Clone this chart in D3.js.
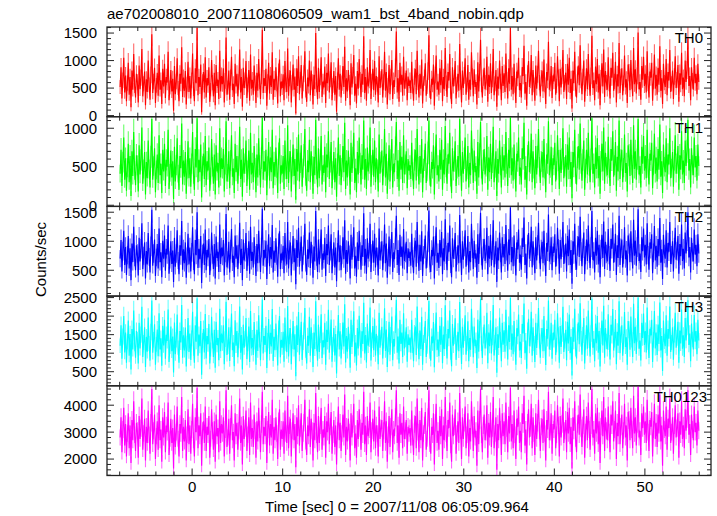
<!DOCTYPE html>
<html><head><meta charset="utf-8">
<script src="https://cdn.jsdelivr.net/npm/d3@7"></script>
<style>body{margin:0;background:#fff}svg{display:block}text{font-family:"Liberation Sans",Arial,Helvetica,sans-serif}</style>
</head><body>
<script>
const title = "ae702008010_20071108060509_wam1_bst_4band_nobin.qdp";
const xTitle = "Time [sec] 0 = 2007/11/08 06:05:09.964";
const yTitle = "Counts/sec";
const bands = ["TH0","TH1","TH2","TH3","TH0123"];
const colors = ["#ff0000","#00ff00","#0000ff","#00ffff","#ff00ff"];
const yDomains = [[-20,1610],[-15,1150],[55,1600],[120,2540],[1390,4720]];
const yMajor = [500,500,500,500,1000];
const yMinor = [100,100,100,100,200];
const xDomain = [-9.4,57.3];
const xTicks = [0,10,20,30,40,50];
const tStart = -7.95, tStep = 0.1;
const binWidth = 1 / 32; // native bin width (s) used for Poisson error bars

const th0 = [520,880,310,640,1050,420,730,260,590,960,380,700,150,820,470,1120,540,330,760,610,
240,910,480,690,1210,350,580,800,190,660,430,1000,560,290,740,1480,410,620,870,230,
550,780,360,1090,470,640,210,850,530,940,320,700,600,1160,280,510,830,440,670,90,
900,390,620,1040,500,260,760,580,1240,340,690,450,810,200,570,980,430,720,310,640,
1130,480,260,860,590,1590,370,700,520,930,60,610,790,420,1060,330,680,550,880,250,
470,1010,600,350,780,190,920,540,650,300,1180,440,720,570,860,240,630,1420,380,510,
820,290,690,1070,460,580,210,940,530,760,350,610,1200,420,700,160,870,500,640,990,
320,560,830,270,1110,490,650,380,910,590,230,780,450,1030,620,300,720,1560,410,680,
540,850,180,610,960,400,730,520,1150,290,670,460,880,580,220,790,1020,350,620,500,
750,280,990,560,430,1220,360,680,820,240,600,930,470,710,40,860,540,1080,390,650,
920,310,580,760,1170,450,250,690,530,1000,370,820,610,200,740,480,1500,560,300,870,
430,700,1060,340,620,510,890,230,780,590,1130,420,660,970,280,550,810,380,720,70,
640,1040,470,760,330,590,900,520,1250,270,680,440,830,600,190,950,510,730,1100,360,
580,220,810,490,1030,650,340,760,560,1440,410,700,270,880,530,640,1190,300,620,850,
460,990,380,720,570,240,1080,500,660,840,330,610,1160,450,790,200,550,920,390,700,
1010,300,640,520,870,1530,420,680,250,960,560,740,360,1070,490,630,820,280,710,540,
640,410,980,530,270,710,850,390,1180,600,330,760,490,1020,220,580,690,950,360,520,
810,1460,440,300,670,560,930,180,740,1090,470,620,380,860,550,1010,260,700,480,1230,
590,340,790,640,1120,420,210,880,530,680,990,310,570,760,450,1300,610,240,820,500,
730,1040,380,560,920,290,650,470,1150,710,350,840,520,610,200,970,440,780,1380,560,
330,690,870,480,600,1070,250,740,520,950,410,660,1210,370,580,830,160,710,490,1000,
620,280,900,540,770,430,1130,650,310,860,580,1590,470,720,390,940,550,230,800,680,
1050,460,590,330,880,720,1270,400,610,180,760,990,520,640,1100,370,830,560,270,910,
490,750,1180,600,350,680,820,440,1020,560,210,790,640,1340,470,580,900,320,730,620,
960,380,540,1080,690,260,850,510,720,1190,430,600,780,300,940,560,1050,410,670,130,
820,590,1160,470,330,740,910,550,1280,640,390,700,1000,250,580,860,480,1120,610,360,
720,1450,500,640,280,890,570,1030,420,760,190,680,950,530,1200,340,810,600,470,1060,
580,310,870,690,1140,450,620,980,240,750,530,1320,410,700,860,370,590,1090,510,660,
230,930,780,460,1010,620,350,1230,570,840,400,720,1510,480,610,290,900,650,1070,540,
760,420,1170,580,330,800,690,960,270,620,1110,490,740,380,870,560,1260,450,680,210,
940,600,520,1030,370,790,640,1190,430,580,820,300,710,1080,500,650,920,250,770,560,
1140,480,690,350,1000,610,830,1420,540,720,280,880,630,470,1050,590,760,390,940,610];

const th1 = [410,720,250,560,880,330,610,190,490,800,300,640,120,700,380,950,450,260,650,520,
180,780,400,590,1010,280,470,690,140,560,350,840,470,230,630,1120,330,510,740,170,
460,660,290,910,390,540,160,720,440,800,250,590,500,980,210,420,710,360,570,80,
760,310,520,870,410,200,640,480,1060,270,580,370,690,150,470,830,350,610,240,540,
950,390,200,730,490,1130,300,590,430,790,100,510,670,340,900,260,570,450,750,190,
380,860,500,280,660,140,780,440,550,230,1000,360,610,470,730,180,530,1090,310,420,
700,220,580,910,370,480,160,800,430,640,280,510,1020,340,590,110,740,410,540,840,
250,460,710,200,940,400,550,300,770,490,170,660,360,870,520,230,610,1140,330,570,
440,720,130,510,820,320,620,430,980,220,560,370,750,480,160,670,870,280,520,410,
640,210,840,460,340,1040,290,570,700,180,500,790,380,600,70,730,440,920,310,550,
780,240,480,650,990,360,190,580,430,850,300,700,510,150,630,390,1110,460,230,740,
350,590,900,270,520,420,760,170,660,490,960,340,560,820,220,450,690,300,610,110,
540,880,380,650,260,490,770,430,1070,210,580,360,710,500,140,810,420,620,940,290,
480,170,690,400,880,550,270,650,460,1100,330,600,210,750,440,540,1010,240,520,720,
370,840,300,610,470,180,920,410,560,710,260,510,990,360,670,150,450,780,310,590,
860,230,540,430,740,1080,340,580,190,820,460,630,290,910,400,530,700,220,600,450,
520,340,810,440,210,590,720,320,990,500,270,640,410,860,170,480,580,800,290,430,
680,1100,360,240,560,470,780,140,620,920,390,520,310,720,460,850,200,590,400,1030,
490,280,660,540,940,350,160,740,440,570,830,250,470,640,370,1120,510,190,690,410,
610,880,310,460,770,230,550,390,970,600,290,710,430,510,150,820,360,660,1080,470,
270,580,730,400,500,900,200,620,430,800,340,550,1020,300,480,700,120,600,410,840,
520,230,760,450,650,360,950,540,250,720,480,1140,390,610,320,790,460,180,670,570,
880,380,490,270,740,600,1070,330,510,140,640,830,430,540,930,300,700,470,220,770,
400,630,990,500,290,570,690,360,860,470,170,660,540,1090,390,480,760,260,610,520,
810,310,450,910,580,210,720,420,600,1000,350,500,650,240,790,460,880,340,560,90,
690,490,980,390,270,620,770,460,1060,540,320,590,840,200,480,720,400,940,510,300,
600,1130,410,540,230,750,470,870,350,640,150,570,800,440,1010,280,680,500,390,890,
480,250,730,580,960,370,520,820,190,630,440,1100,340,590,720,300,490,920,420,550,
180,780,650,380,850,520,290,1040,470,700,330,600,1120,400,510,230,760,540,900,450,
640,350,980,480,270,670,580,810,220,520,930,410,620,310,730,460,1050,370,570,160,
790,500,430,870,300,660,530,1000,350,480,690,240,590,910,410,540,770,200,650,460,
960,400,580,290,840,510,700,1110,450,600,230,740,520,390,880,490,640,320,790,510];

const th2 = [700,1020,480,830,1180,590,900,420,760,1090,530,880,330,960,640,1250,720,500,930,790,
410,1060,650,870,1310,520,750,980,360,830,600,1140,730,460,910,1540,580,790,1030,400,
720,950,530,1220,640,810,380,1010,700,1100,490,870,770,1270,440,680,1000,610,840,300,
1060,560,790,1190,670,430,930,750,1350,510,860,620,980,370,740,1130,600,890,480,810,
1240,650,430,1020,760,1500,540,870,690,1090,280,780,960,590,1200,500,850,720,1040,420,
640,1150,770,520,950,360,1080,710,820,470,1290,610,890,740,1020,410,800,1470,550,680,
990,460,860,1210,630,750,380,1100,700,930,520,780,1320,590,870,330,1030,670,810,1140,
490,730,1000,440,1250,660,820,550,1070,760,400,950,620,1180,790,470,890,1560,580,850,
710,1010,350,780,1120,570,900,690,1280,460,840,630,1050,750,390,960,1170,520,790,670,
920,450,1140,730,600,1330,530,850,980,410,770,1090,640,880,260,1020,710,1230,560,820,
1080,480,750,930,1300,620,420,860,700,1150,540,990,780,370,910,650,1520,730,470,1030,
600,870,1200,510,790,680,1060,400,950,760,1270,590,830,1120,450,720,980,550,890,310,
810,1190,640,930,500,760,1070,690,1360,440,850,610,1000,770,360,1110,680,900,1240,530,
750,390,980,660,1180,820,510,930,730,1480,580,870,440,1050,700,810,1300,470,790,1010,
630,1130,550,890,740,410,1220,670,830,1000,500,780,1290,620,960,370,720,1080,560,870,
1160,470,810,690,1040,1440,590,850,420,1110,730,910,530,1210,660,800,990,450,880,710,
820,580,1130,700,450,890,1010,560,1330,780,490,940,650,1170,400,760,870,1100,530,690,
990,1530,600,470,850,740,1080,360,920,1240,630,800,540,1020,720,1160,430,880,650,1380,
770,500,970,820,1270,590,380,1050,700,860,1140,480,750,930,620,1450,790,420,1000,680,
910,1190,560,740,1090,460,830,640,1300,880,520,1010,700,790,370,1120,610,960,1490,740,
510,870,1040,660,780,1230,430,920,700,1110,580,840,1360,550,760,1000,300,890,670,1150,
800,460,1070,720,950,610,1280,830,490,1030,760,1580,640,900,570,1100,730,410,980,860,
1200,630,770,510,1050,900,1410,590,790,360,940,1140,700,820,1250,550,1000,740,450,1070,
670,930,1320,780,520,860,990,620,1180,740,400,970,820,1460,650,760,1070,500,910,800,
1120,560,720,1230,870,440,1020,690,900,1330,610,780,960,480,1090,740,1200,590,850,270,
1000,770,1300,650,510,920,1080,730,1420,820,570,880,1150,430,760,1030,660,1270,790,540,
900,1520,680,820,460,1060,750,1180,600,940,380,860,1110,710,1340,520,990,780,650,1210,
760,490,1040,870,1290,630,800,1130,420,930,710,1440,590,880,1030,550,770,1240,690,840,
410,1100,960,640,1170,800,530,1370,750,1010,580,900,1550,660,790,470,1070,830,1220,720,
940,600,1310,760,510,980,870,1120,450,800,1260,670,920,560,1040,740,1400,630,860,350,
1110,780,700,1190,550,970,820,1330,610,760,1000,480,890,1230,680,830,1090,440,950,740,
1290,660,870,530,1150,790,1010,1500,720,900,460,1060,810,650,1200,770,940,570,1120,790];

const th3 = [1200,1750,850,1450,2000,1020,1560,740,1310,1880,930,1520,560,1650,1100,2150,1250,880,1600,1370,
720,1820,1130,1500,2250,900,1290,1700,630,1440,1040,1960,1260,800,1570,2420,1010,1360,1780,690,
1240,1640,920,2080,1100,1400,660,1740,1210,1900,850,1500,1330,2180,760,1170,1720,1050,1450,480,
1830,970,1360,2040,1150,740,1600,1290,2300,880,1480,1070,1690,640,1270,1950,1030,1530,820,1400,
2120,1120,740,1750,1310,2480,930,1500,1190,1870,420,1340,1650,1020,2060,860,1460,1240,1790,720,
1100,1980,1330,900,1630,610,1850,1220,1410,810,2200,1050,1530,1270,1750,700,1380,2390,950,1170,
1700,790,1480,2070,1080,1290,650,1890,1200,1600,890,1340,2260,1010,1490,560,1770,1150,1390,1950,
840,1250,1720,760,2140,1130,1410,950,1840,1300,690,1630,1060,2020,1360,810,1530,2450,990,1460,
1220,1740,600,1340,1920,980,1550,1180,2190,790,1440,1080,1800,1290,670,1650,2000,890,1360,1150,
1580,770,1960,1250,1030,2270,910,1460,1680,700,1320,1870,1100,1510,380,1750,1220,2110,960,1410,
1850,820,1290,1600,2220,1060,720,1470,1200,1980,930,1700,1340,630,1560,1110,2400,1250,800,1770,
1030,1490,2050,870,1350,1160,1820,690,1630,1300,2170,1010,1420,1910,770,1240,1680,940,1520,450,
1390,2030,1100,1590,860,1300,1830,1180,2320,750,1460,1040,1710,1320,610,1900,1170,1540,2130,910,
1290,670,1680,1130,2010,1400,880,1590,1250,2360,990,1490,750,1800,1200,1380,2230,800,1350,1730,
1080,1930,940,1520,1270,700,2090,1150,1420,1710,860,1330,2210,1060,1640,630,1230,1850,960,1490,
1990,810,1380,1180,1780,2440,1010,1450,720,1900,1250,1560,900,2080,1130,1370,1700,770,1510,1220,
1420,1010,1900,1200,780,1540,1720,950,2260,1330,840,1610,1110,1980,690,1290,1490,1870,900,1180,
1690,2410,1030,800,1450,1270,1840,620,1570,2100,1080,1370,920,1740,1230,1970,730,1500,1110,2290,
1310,860,1650,1400,2150,1000,650,1790,1200,1460,1940,820,1280,1580,1050,2380,1350,710,1710,1150,
1550,2020,960,1260,1860,780,1410,1090,2200,1500,890,1720,1190,1350,600,1910,1040,1640,2460,1260,
870,1480,1770,1130,1330,2090,730,1560,1190,1890,990,1430,2300,940,1290,1700,470,1510,1140,1960,
1360,780,1820,1230,1620,1040,2170,1410,830,1750,1300,2490,1090,1530,970,1870,1240,690,1670,1460,
2040,1070,1310,870,1790,1530,2340,1000,1340,580,1600,1930,1190,1390,2120,930,1700,1260,760,1820,
1140,1580,2220,1330,880,1460,1680,1050,2000,1260,680,1650,1390,2420,1100,1290,1820,850,1550,1360,
1900,950,1220,2080,1480,740,1730,1170,1530,2250,1030,1330,1630,810,1850,1260,2040,1000,1440,400,
1700,1310,2200,1100,860,1570,1830,1240,2350,1390,960,1490,1950,720,1290,1750,1120,2150,1350,910,
1530,2470,1150,1390,780,1800,1270,2000,1010,1600,640,1460,1880,1210,2280,880,1680,1320,1100,2050,
1290,830,1770,1480,2190,1070,1360,1920,700,1580,1200,2400,1000,1500,1750,930,1310,2110,1170,1430,
690,1870,1630,1090,1990,1360,900,2330,1270,1710,980,1530,2500,1120,1340,800,1820,1410,2070,1220,
1600,1020,2230,1290,870,1660,1480,1900,760,1360,2140,1130,1560,950,1770,1250,2370,1070,1460,520,
1880,1320,1190,2020,930,1650,1390,2260,1030,1290,1700,820,1510,2090,1150,1410,1850,740,1610,1260,
2180,1120,1480,900,1950,1340,1720,2430,1220,1530,780,1800,1370,1100,2030,1310,1600,970,1900,1340];

const th0123 = [2800,3550,2250,3100,3900,2500,3300,2100,2950,3700,2400,3250,1850,3450,2700,4150,2900,2300,3350,3050,
2050,3600,2750,3150,4250,2350,2950,3500,1950,3200,2600,3800,2900,2200,3350,4600,2550,3050,3650,2000,
2850,3400,2350,4000,2700,3100,1900,3550,2800,3750,2250,3250,3000,4100,2150,2750,3500,2600,3150,1650,
3650,2450,3000,3950,2750,2100,3300,2950,4300,2300,3200,2650,3450,1950,2900,3850,2550,3250,2200,3100,
4050,2700,2100,3550,3000,4650,2400,3250,2850,3700,1750,3050,3400,2600,3950,2300,3200,2900,3600,2050,
2750,3850,3050,2350,3400,1900,3650,2850,3150,2250,4150,2600,3300,2950,3550,2100,3100,4550,2450,2800,
3500,2200,3200,4000,2700,3000,1950,3700,2850,3350,2350,3050,4250,2600,3250,1800,3600,2750,3150,3800,
2300,2900,3550,2150,4100,2750,3150,2450,3650,3050,2050,3400,2650,3900,3100,2250,3300,4500,2550,3200,
2850,3600,1850,3100,3750,2500,3300,2800,4200,2200,3200,2700,3550,2950,2000,3400,3850,2350,3100,2750,
3400,2200,3800,2950,2600,4350,2400,3250,3500,2100,3050,3700,2700,3300,1700,3550,2850,4000,2500,3150,
3700,2300,2950,3350,4200,2650,2150,3250,2850,3850,2450,3500,3050,1950,3350,2700,4450,2900,2250,3600,
2600,3250,3900,2350,3100,2800,3600,2050,3400,3000,4050,2550,3200,3750,2200,2900,3450,2450,3250,1800,
3050,3950,2700,3350,2300,2950,3650,2800,4400,2150,3200,2650,3500,3000,1950,3700,2800,3300,4050,2400,
2950,2050,3450,2750,3850,3150,2350,3350,2900,4500,2550,3250,2150,3600,2850,3100,4100,2250,3050,3500,
2650,3800,2400,3250,2950,2100,3950,2750,3150,3450,2300,3050,4150,2600,3400,1900,2900,3600,2450,3200,
3850,2250,3100,2850,3550,4550,2600,3250,2050,3700,2900,3350,2400,3950,2750,3050,3450,2200,3200,2950,
3150,2500,3800,2800,2150,3300,3600,2400,4250,3000,2250,3450,2700,3900,1950,2950,3250,3750,2350,2750,
3550,4550,2550,2200,3200,2900,3700,1800,3350,4050,2600,3050,2350,3600,2850,3850,2000,3250,2700,4300,
2950,2300,3450,3150,4100,2500,1900,3650,2850,3200,3850,2200,2950,3400,2600,4450,3050,2000,3550,2750,
3350,3950,2400,2900,3700,2100,3150,2650,4150,3250,2300,3600,2800,3050,1750,3800,2550,3450,4600,2900,
2250,3250,3650,2700,3000,4000,2050,3350,2800,3750,2450,3150,4300,2400,2950,3550,1600,3300,2700,3900,
3100,2150,3700,2850,3400,2550,4100,3150,2250,3600,2950,4650,2650,3300,2400,3800,2900,2000,3500,3200,
3950,2600,3050,2250,3700,3300,4350,2500,3100,1800,3350,3850,2800,3150,4050,2400,3550,2950,2150,3700,
2750,3350,4200,3050,2300,3200,3500,2600,3850,2950,1950,3450,3100,4500,2700,3000,3700,2200,3300,3100,
3800,2400,2900,4000,3250,2100,3600,2800,3300,4250,2600,3050,3450,2250,3750,2950,3900,2550,3200,1650,
3550,3050,4150,2750,2250,3300,3650,2900,4400,3150,2450,3250,3850,2050,3000,3600,2700,4100,3100,2350,
3250,4600,2800,3100,2200,3700,2950,3900,2550,3400,1850,3200,3800,2850,4300,2300,3550,3050,2700,3950,
3000,2250,3650,3250,4150,2650,3100,3800,2000,3350,2850,4450,2550,3200,3650,2400,3050,4050,2800,3250,
1950,3750,3450,2700,3900,3100,2400,4350,2950,3550,2500,3300,4700,2800,3050,2150,3700,3150,3950,2900,
3400,2600,4200,3000,2300,3450,3200,3750,2100,3100,4050,2750,3350,2450,3650,2950,4400,2650,3250,1750,
3800,3100,2850,3950,2350,3500,3150,4250,2600,3000,3550,2200,3250,4000,2800,3150,3700,2050,3400,2900,
4150,2750,3250,2400,3850,3050,3500,4550,2900,3300,2150,3650,3100,2700,3950,3000,3350,2500,3800,3050];

const series = [th0, th1, th2, th3, th0123];

const W = 717, H = 516;
const L = 107, R = 711, T = 27, B = 475.5;
const ph = (B - T) / bands.length;
const svg = d3.select("body").append("svg").attr("width", W).attr("height", H);
const x = d3.scaleLinear().domain(xDomain).range([L, R]);
const fs = 15, axisColor = "#222";

svg.append("text").attr("x", L).attr("y", 18.5).attr("font-size", fs).attr("fill", "#000").text(title);

const xMinorTicks = d3.range(-8, 57, 2);

bands.forEach((b, i) => {
  const top = T + i * ph, bot = top + ph;
  const y = d3.scaleLinear().domain(yDomains[i]).range([bot, top]);
  const g = svg.append("g");
  const cid = "clip" + i;
  svg.append("clipPath").attr("id", cid).append("rect").attr("x", L).attr("y", top).attr("width", R - L).attr("height", ph);
  const data = series[i].map((v, k) => ({t: tStart + k * tStep, v, e: Math.sqrt(v / binWidth)}));
  const dg = g.append("g").attr("clip-path", `url(#${cid})`);
  // Poisson error bars
  dg.append("path").attr("d", data.map(d => `M${x(d.t)},${y(d.v + d.e)}V${y(Math.max(d.v - d.e, yDomains[i][0]))}`).join(""))
    .attr("fill", "none").attr("stroke", colors[i]).attr("stroke-width", 1.1).attr("stroke-opacity", 0.6);
  const line = d3.line().x(d => x(d.t)).y(d => y(d.v));
  dg.append("path").attr("d", line(data)).attr("fill", "none").attr("stroke", colors[i])
    .attr("stroke-width", 1.15);

  // frame
  g.append("rect").attr("x", L).attr("y", top).attr("width", R - L).attr("height", ph)
    .attr("fill", "none").attr("stroke", axisColor).attr("stroke-width", 1.3);

  // y ticks
  const [d0, d1] = yDomains[i];
  const minors = d3.range(Math.ceil(d0 / yMinor[i]) * yMinor[i], d1 + 0.001, yMinor[i]);
  minors.forEach(v => {
    const major = Math.abs(v % yMajor[i]) < 1e-6;
    const len = major ? 7 : 4;
    const yy = y(v);
    g.append("line").attr("x1", L).attr("x2", L + len).attr("y1", yy).attr("y2", yy).attr("stroke", axisColor).attr("stroke-width", 1);
    g.append("line").attr("x1", R).attr("x2", R - len).attr("y1", yy).attr("y2", yy).attr("stroke", axisColor).attr("stroke-width", 1);
  });
  const majors = d3.range(Math.ceil(d0 / yMajor[i]) * yMajor[i], d1 + 0.001, yMajor[i]);
  majors.forEach(v => {
    g.append("text").attr("x", 97).attr("y", y(v)).attr("dy", "0.36em").attr("text-anchor", "end")
      .attr("font-size", fs).attr("fill", "#000").text(v);
  });

  // x ticks top & bottom
  xMinorTicks.forEach(t => {
    const major = t % 10 === 0;
    const len = major ? 7 : 4;
    const xx = x(t);
    g.append("line").attr("x1", xx).attr("x2", xx).attr("y1", top).attr("y2", top + len).attr("stroke", axisColor).attr("stroke-width", 1);
    g.append("line").attr("x1", xx).attr("x2", xx).attr("y1", bot).attr("y2", bot - len).attr("stroke", axisColor).attr("stroke-width", 1);
  });

  g.append("text").attr("x", b.length > 3 ? 707 : 703).attr("y", top + 16).attr("text-anchor", "end")
    .attr("font-size", fs).attr("fill", "#000").text(b);
});

xTicks.forEach(t => {
  svg.append("text").attr("x", x(t)).attr("y", 492).attr("text-anchor", "middle")
    .attr("font-size", fs).attr("fill", "#000").text(t);
});
svg.append("text").attr("x", 397).attr("y", 511.5).attr("text-anchor", "middle")
  .attr("font-size", fs).attr("fill", "#000").text(xTitle);
svg.append("text").attr("transform", "translate(46,259.5) rotate(-90)").attr("text-anchor", "middle")
  .attr("font-size", fs).attr("fill", "#000").text(yTitle);
</script>
</body></html>
